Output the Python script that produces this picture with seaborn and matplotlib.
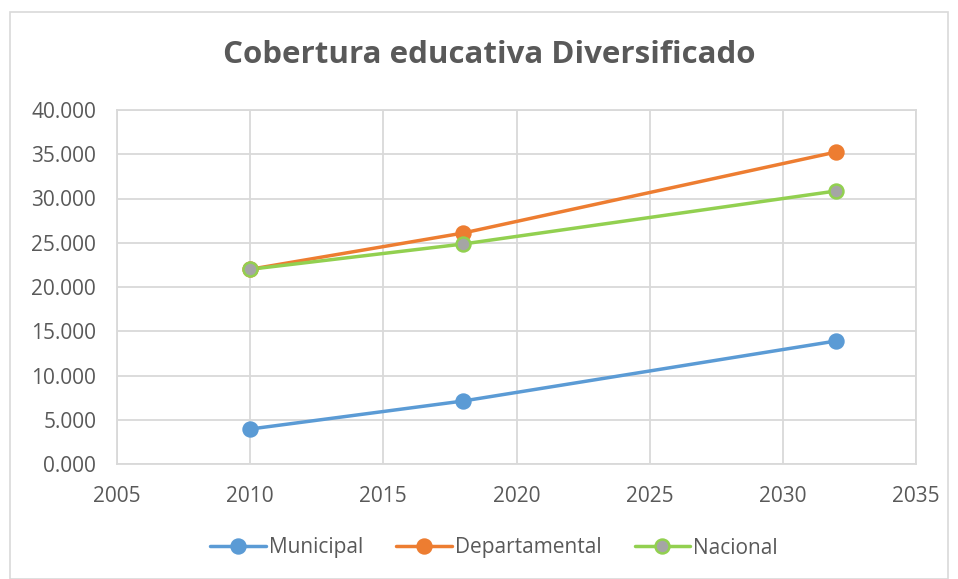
import matplotlib
matplotlib.use("Agg")
import matplotlib.pyplot as plt
import seaborn as sns
import pandas as pd
from matplotlib.patches import Rectangle
from matplotlib.ticker import FuncFormatter, MultipleLocator

# Data
years = [2010, 2018, 2032]
municipal = [3.95, 7.12, 13.9]
departamental = [22.0, 26.1, 35.25]
nacional = [22.0, 24.86, 30.85]

series_names = ["Municipal", "Departamental", "Nacional"]
colors = {"Municipal": "#5b9bd5", "Departamental": "#ed7d31", "Nacional": "#92d050"}

df = pd.DataFrame({
    "year": years * 3,
    "value": municipal + departamental + nacional,
    "serie": [s for s in series_names for _ in years],
})

sns.set_style("white")
plt.rcParams["font.family"] = ["Open Sans", "DejaVu Sans"]

fig = plt.figure(figsize=(9.58, 5.79), dpi=100)
ax = fig.add_axes([117 / 958, 1 - 464 / 579, (916 - 117) / 958, (464 - 110) / 579])

sns.lineplot(data=df, x="year", y="value", hue="serie", palette=colors,
             linewidth=2.5, ax=ax, legend=False)

for name in series_names:
    sub = df[df["serie"] == name]
    face = "#a5a5a5" if name == "Nacional" else colors[name]
    ax.plot(sub["year"], sub["value"], linestyle="none", marker="o",
            markersize=10, markerfacecolor=face, markeredgecolor=colors[name],
            markeredgewidth=1.8, zorder=4)

ax.set_xlim(2005, 2035)
ax.set_ylim(0, 40)
ax.xaxis.set_major_locator(MultipleLocator(5))
ax.yaxis.set_major_locator(MultipleLocator(5))
ax.yaxis.set_major_formatter(FuncFormatter(lambda v, p: f"{v:.3f}"))
ax.grid(True, color="#d9d9d9", linewidth=1.3)
ax.set_axisbelow(True)
for sp in ax.spines.values():
    sp.set_color("#d9d9d9")
    sp.set_linewidth(1.3)
ax.tick_params(axis="both", length=0, labelsize=15, colors="#595959")
ax.tick_params(axis="y", pad=15)
ax.tick_params(axis="x", pad=16)
ax.set_xlabel("")
ax.set_ylabel("")

fig.text(489 / 958, 1 - 55 / 579, "Cobertura educativa Diversificado", ha="center", va="center",
         fontsize=22.5, fontweight="bold", color="#595959")

# legend
handles = []
for name in series_names:
    face = "#a5a5a5" if name == "Nacional" else colors[name]
    h, = ax.plot([], [], color=colors[name], linewidth=2.5, marker="o", markersize=10,
                 markerfacecolor=face, markeredgecolor=colors[name], markeredgewidth=1.8)
    handles.append(h)
fig.legend(handles, series_names, loc="center", bbox_to_anchor=(494 / 958, 1 - 548 / 579),
           ncol=3, frameon=False, fontsize=15, labelcolor="#595959",
           handlelength=2.65, columnspacing=1.6, handletextpad=0.15)

fig.patches.append(Rectangle((10 / 958, 0), 938 / 958, 1 - 12 / 579, transform=fig.transFigure,
                             fill=False, edgecolor="#d9d9d9", linewidth=1.2))

fig.savefig("out.png", dpi=100, facecolor="white")
